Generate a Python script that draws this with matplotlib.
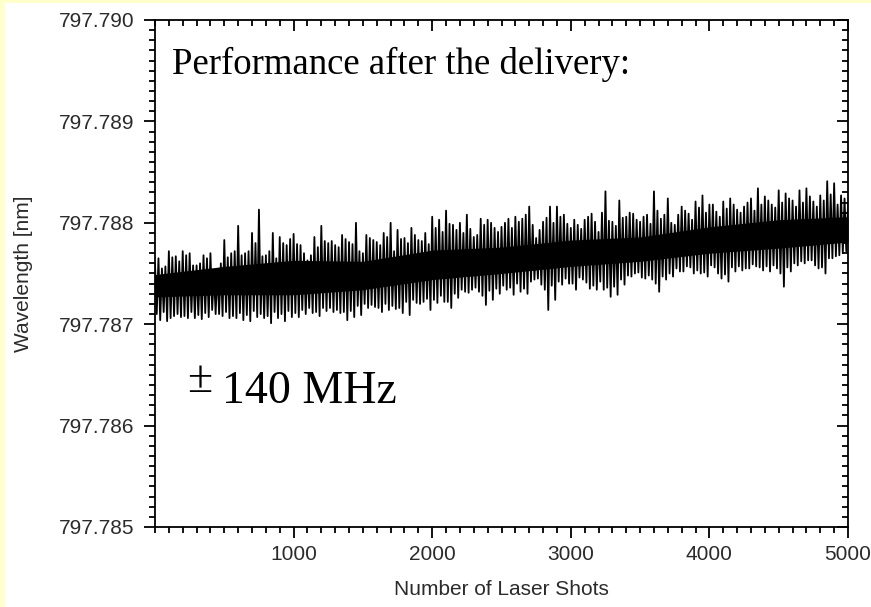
import matplotlib
matplotlib.use("Agg")
import matplotlib.pyplot as plt
import numpy as np
from matplotlib.patches import Rectangle
from matplotlib.ticker import MultipleLocator, FormatStrFormatter

# Wavelength trace over 5000 shots: upper tips every 25 shots, lower tips in between
upper_shots = np.arange(0, 5001, 25)
upper_nm = [
    # 0 - 1250
    797.78760, 797.78765, 797.78755, 797.78757, 797.78772, 797.78766, 797.78767, 797.78762, 797.78772, 797.78768,
    797.78770, 797.78758, 797.78758, 797.78760, 797.78768, 797.78765, 797.78770, 797.78750, 797.78754, 797.78760,
    797.78783, 797.78766, 797.78770, 797.78772, 797.78797, 797.78768, 797.78770, 797.78772, 797.78790, 797.78780,
    797.78813, 797.78767, 797.78768, 797.78772, 797.78790, 797.78765, 797.78786, 797.78780, 797.78778, 797.78784,
    797.78789, 797.78779, 797.78778, 797.78770, 797.78763, 797.78768, 797.78786, 797.78776, 797.78797, 797.78782,
    797.78780,
    # 1275 - 2500
    797.78782, 797.78778, 797.78776, 797.78788, 797.78784, 797.78781, 797.78779, 797.78800, 797.78772, 797.78770,
    797.78788, 797.78785, 797.78783, 797.78781, 797.78778, 797.78790, 797.78786, 797.78800, 797.78772, 797.78793,
    797.78784, 797.78785, 797.78780, 797.78795, 797.78788, 797.78783, 797.78782, 797.78790, 797.78779, 797.78806,
    797.78795, 797.78803, 797.78791, 797.78812, 797.78799, 797.78798, 797.78793, 797.78800, 797.78790, 797.78808,
    797.78794, 797.78786, 797.78788, 797.78804, 797.78798, 797.78803, 797.78800, 797.78795, 797.78791, 797.78796,
    # 2525 - 3750
    797.78800, 797.78804, 797.78795, 797.78806, 797.78801, 797.78804, 797.78808, 797.78816, 797.78798, 797.78785,
    797.78793, 797.78801, 797.78805, 797.78816, 797.78800, 797.78816, 797.78806, 797.78808, 797.78799, 797.78795,
    797.78803, 797.78798, 797.78794, 797.78803, 797.78806, 797.78809, 797.78801, 797.78791, 797.78810, 797.78831,
    797.78802, 797.78801, 797.78797, 797.78822, 797.78805, 797.78806, 797.78810, 797.78809, 797.78803, 797.78801,
    797.78806, 797.78808, 797.78799, 797.78831, 797.78812, 797.78804, 797.78808, 797.78824, 797.78800, 797.78798,
    # 3775 - 5000
    797.78808, 797.78816, 797.78812, 797.78809, 797.78803, 797.78821, 797.78815, 797.78827, 797.78810, 797.78818,
    797.78818, 797.78811, 797.78806, 797.78821, 797.78814, 797.78824, 797.78818, 797.78813, 797.78810, 797.78816,
    797.78820, 797.78824, 797.78812, 797.78834, 797.78818, 797.78826, 797.78822, 797.78818, 797.78815, 797.78832,
    797.78820, 797.78829, 797.78824, 797.78822, 797.78816, 797.78832, 797.78820, 797.78834, 797.78826, 797.78821,
    797.78816, 797.78827, 797.78822, 797.78841, 797.78828, 797.78839, 797.78818, 797.78827, 797.78824, 797.78818,
]

lower_shots = np.arange(12.5, 5000, 25)
lower_nm = [
    # 0 - 1250
    797.78710, 797.78704, 797.78712, 797.78703, 797.78706, 797.78708, 797.78710, 797.78707, 797.78708, 797.78706,
    797.78712, 797.78706, 797.78709, 797.78705, 797.78711, 797.78707, 797.78714, 797.78710, 797.78710, 797.78708,
    797.78712, 797.78706, 797.78708, 797.78706, 797.78711, 797.78704, 797.78709, 797.78703, 797.78713, 797.78707,
    797.78710, 797.78706, 797.78708, 797.78701, 797.78712, 797.78706, 797.78710, 797.78703, 797.78713, 797.78707,
    797.78711, 797.78707, 797.78714, 797.78710, 797.78716, 797.78711, 797.78712, 797.78708, 797.78716, 797.78713,
    # 1250 - 2500
    797.78716, 797.78712, 797.78714, 797.78711, 797.78712, 797.78704, 797.78713, 797.78707, 797.78718, 797.78709,
    797.78720, 797.78716, 797.78719, 797.78717, 797.78716, 797.78712, 797.78720, 797.78714, 797.78718, 797.78715,
    797.78716, 797.78711, 797.78722, 797.78709, 797.78724, 797.78721, 797.78720, 797.78722, 797.78725, 797.78714,
    797.78724, 797.78721, 797.78728, 797.78722, 797.78722, 797.78716, 797.78730, 797.78726, 797.78734, 797.78732,
    797.78731, 797.78734, 797.78736, 797.78732, 797.78728, 797.78719, 797.78733, 797.78724, 797.78735, 797.78730,
    # 2500 - 3750
    797.78738, 797.78734, 797.78736, 797.78729, 797.78740, 797.78732, 797.78735, 797.78730, 797.78742, 797.78744,
    797.78745, 797.78739, 797.78734, 797.78714, 797.78738, 797.78724, 797.78742, 797.78739, 797.78745, 797.78740,
    797.78740, 797.78734, 797.78746, 797.78744, 797.78741, 797.78735, 797.78738, 797.78734, 797.78742, 797.78734,
    797.78736, 797.78727, 797.78737, 797.78729, 797.78744, 797.78739, 797.78748, 797.78747, 797.78750, 797.78751,
    797.78746, 797.78745, 797.78748, 797.78744, 797.78740, 797.78732, 797.78747, 797.78744, 797.78750, 797.78747,
    # 3750 - 5000
    797.78755, 797.78752, 797.78752, 797.78757, 797.78756, 797.78750, 797.78753, 797.78750, 797.78751, 797.78747,
    797.78758, 797.78756, 797.78750, 797.78745, 797.78749, 797.78742, 797.78756, 797.78752, 797.78757, 797.78753,
    797.78755, 797.78755, 797.78759, 797.78757, 797.78756, 797.78753, 797.78757, 797.78752, 797.78758, 797.78755,
    797.78750, 797.78737, 797.78756, 797.78752, 797.78760, 797.78758, 797.78762, 797.78760, 797.78763, 797.78763,
    797.78758, 797.78755, 797.78756, 797.78750, 797.78765, 797.78765, 797.78767, 797.78768, 797.78770, 797.78772,
]

# Solid middle of the trace, where the shots overlap completely
core_shots = np.arange(0, 5001, 500)
core_hi = [797.78749, 797.78757, 797.78763, 797.78762, 797.78773, 797.78776,
           797.78783, 797.78786, 797.78796, 797.78803, 797.78806]
core_lo = [797.78727, 797.78729, 797.78729, 797.78734, 797.78744, 797.78750,
           797.78757, 797.78762, 797.78770, 797.78775, 797.78781]

x_ticks = [1000, 2000, 3000, 4000, 5000]

# Interleave the tips into one zigzag trace
n = len(upper_shots) + len(lower_shots)
trace_x = np.empty(n)
trace_y = np.empty(n)
trace_x[0::2] = upper_shots
trace_x[1::2] = lower_shots
trace_y[0::2] = upper_nm
trace_y[1::2] = lower_nm

fig = plt.figure(figsize=(8.71, 6.07), dpi=100)
fig.patch.set_facecolor("white")
# pale yellow slide border on the left and top
fig.add_artist(Rectangle((0, 0), 5 / 871, 1, transform=fig.transFigure,
                         facecolor="#FFFFCC", edgecolor="none", zorder=0))
fig.add_artist(Rectangle((0, 1 - 3 / 607), 1, 3 / 607, transform=fig.transFigure,
                         facecolor="#FFFFCC", edgecolor="none", zorder=0))

ax = fig.add_axes([155 / 871, 80 / 607, 693 / 871, 507 / 607])
ax.fill_between(core_shots, core_lo, core_hi, color="black", lw=0)
ax.plot(trace_x, trace_y, color="black", lw=1.3)

ax.set_xlim(0, 5000)
ax.set_ylim(797.785, 797.790)
ax.set_xticks(x_ticks)
ax.xaxis.set_minor_locator(MultipleLocator(100))
ax.yaxis.set_major_locator(MultipleLocator(0.001))
ax.yaxis.set_minor_locator(MultipleLocator(0.0001))
ax.yaxis.set_major_formatter(FormatStrFormatter("%.3f"))

sans = "Liberation Sans"
serif = "Liberation Serif"
tick_color = "#2b2b2b"

for side in ["left", "bottom", "right", "top"]:
    ax.spines[side].set_linewidth(1.3)

ax.tick_params(which="both", direction="out", width=1.3, colors="black",
               labelcolor=tick_color, labelsize=15)
ax.tick_params(which="both", top=True, right=True, labeltop=False, labelright=False)
ax.tick_params(axis="x", pad=5)
ax.tick_params(axis="y", pad=7)
ax.tick_params(which="major", length=8)
ax.tick_params(which="minor", length=4)
# top and right ticks point inwards
for tick in ax.xaxis.get_major_ticks() + ax.xaxis.get_minor_ticks():
    tick.tick2line.set_marker(matplotlib.lines.TICKDOWN)
for tick in ax.yaxis.get_major_ticks() + ax.yaxis.get_minor_ticks():
    tick.tick2line.set_marker(matplotlib.lines.TICKLEFT)
for label in ax.get_xticklabels() + ax.get_yticklabels():
    label.set_fontfamily(sans)

ax.set_xlabel("Number of Laser Shots", fontsize=15, family=sans, color=tick_color)
ax.set_ylabel("Wavelength [nm]", fontsize=15, family=sans, color=tick_color)
ax.xaxis.set_label_coords(0.5, -0.1045)
ax.yaxis.set_label_coords(-0.176, 0.5)

ax.text(0.0245, 0.8935, "Performance after the delivery:", transform=ax.transAxes,
        fontsize=26.5, family=serif, va="baseline", ha="left")
ax.text(0.0462, 0.2663, "\u00b1", transform=ax.transAxes,
        fontsize=33, family=serif, va="baseline", ha="left")
ax.text(0.0967, 0.2446, "140 MHz", transform=ax.transAxes,
        fontsize=33, family=serif, va="baseline", ha="left")

plt.savefig("out.png", dpi=100)
plt.close()
